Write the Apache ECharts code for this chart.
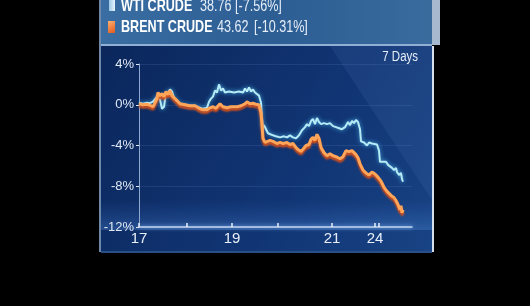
<!DOCTYPE html>
<html>
<head>
<meta charset="utf-8">
<script src="https://cdn.jsdelivr.net/npm/echarts@6/dist/echarts.min.js"></script>
<style>
html,body{margin:0;padding:0;background:#000;}
#c{width:530px;height:306px;}
</style>
</head>
<body>
<div id="c"></div>
<script>
// ---- data ----
var seriesNames = ['WTI CRUDE', 'BRENT CRUDE'];
var lastPrices = ['38.76', '43.62'];
var lastChanges = ['[-7.56%]', '[-10.31%]'];
var periodLabel = '7 Days';
// x = trading-time index, y = % change
var wti = [[0,0.2],[4,0.1],[8,0.2],[11,0.15],[14,0.3],[16,0.2],[18,0.8],[19,1.0],[21,0.5],[23,-0.4],[25,-0.2],[27,1.2],[29,1.0],[31,1.5],[33,1.3],[35,0.7],[37,0.5],[41,0.1],[46,0.0],[51,-0.1],[56,-0.1],[61,-0.3],[64,-0.4],[68,-0.3],[70,0.3],[72,0.6],[74,0.8],[76,1.4],[78,1.2],[80,2.0],[82,1.4],[84,1.6],[86,1.2],[90,1.3],[95,1.2],[100,1.3],[104,1.2],[106,1.6],[108,1.3],[110,1.7],[112,1.3],[114,1.5],[116,1.2],[118,1.3],[120,0.9],[122,0.2],[123,-1.2],[124,-2.3],[125,-2.0],[127,-2.4],[129,-2.8],[131,-2.9],[134,-3.0],[137,-3.1],[141,-3.2],[145,-3.1],[148,-3.2],[151,-3.0],[154,-3.2],[157,-3.3],[160,-3.0],[163,-2.5],[166,-2.2],[168,-1.9],[170,-2.1],[172,-1.6],[174,-1.4],[176,-1.9],[178,-1.3],[180,-1.7],[182,-1.9],[185,-1.8],[188,-1.9],[191,-1.8],[194,-2.1],[197,-2.2],[200,-2.3],[203,-2.4],[206,-2.2],[209,-1.7],[211,-2.0],[213,-1.6],[215,-1.8],[217,-1.5],[219,-1.7],[221,-2.4],[222,-3.6],[225,-3.7],[228,-4.0],[230,-3.7],[233,-3.8],[235,-3.9],[238,-3.9],[240,-4.5],[241,-5.6],[244,-5.6],[247,-5.6],[249,-5.9],[251,-5.8],[253,-6.2],[255,-6.4],[257,-6.2],[258,-6.6],[260,-6.9],[262,-6.7],[263,-7.3],[264,-7.56]];
var brent = [[0,0.1],[4,0.0],[8,0.05],[11,-0.05],[14,-0.2],[16,-0.25],[18,0.6],[19,1.2],[21,0.9],[23,1.1],[25,0.8],[27,1.3],[29,1.0],[31,1.4],[33,0.9],[35,0.7],[37,0.5],[41,0.1],[46,0.0],[51,-0.1],[56,-0.1],[61,-0.4],[64,-0.5],[68,-0.5],[71,-0.3],[74,-0.2],[77,-0.35],[81,0.1],[84,-0.2],[88,-0.3],[92,-0.2],[98,-0.2],[102,-0.1],[106,0.1],[108,0.3],[111,0.1],[114,0.15],[117,0.05],[120,0.0],[122,-0.8],[123,-2.0],[124,-3.3],[126,-3.7],[128,-3.8],[131,-3.5],[134,-3.6],[138,-3.8],[141,-3.7],[144,-3.8],[148,-3.7],[151,-3.9],[154,-3.8],[157,-4.2],[159,-4.4],[162,-4.6],[164,-4.5],[167,-4.0],[170,-3.9],[172,-3.4],[174,-3.2],[176,-3.5],[178,-2.9],[180,-3.3],[182,-4.2],[185,-4.7],[188,-5.0],[191,-4.8],[194,-5.0],[197,-5.1],[201,-5.3],[204,-5.1],[207,-4.5],[210,-4.6],[213,-4.5],[215,-4.6],[217,-4.9],[219,-5.2],[221,-5.8],[224,-6.4],[227,-6.7],[230,-6.9],[233,-6.6],[236,-6.8],[239,-7.1],[242,-7.5],[245,-8.1],[248,-8.5],[250,-8.4],[252,-8.9],[255,-9.1],[257,-9.4],[259,-9.8],[261,-10.3],[262,-9.9],[263,-10.6],[264,-10.31]];
var xTickPos = [0, 48, 93, 139, 193, 236, 240];
var xLabelPos = [0, 93, 193, 236];
var xLabels = ['17', '19', '21', '24'];

var FONT = "'Liberation Sans','Roboto',sans-serif";
var SX = 0.74;

var chart = echarts.init(document.getElementById('c'));
chart.setOption({
  backgroundColor: '#000',
  animation: false,
  grid: {left: 139, right: 118, top: 64, bottom: 79, containLabel: false},
  xAxis: {
    type: 'value', min: 0, max: 273,
    axisLine: {show: true, onZero: false, lineStyle: {color: '#c4d6f0', width: 1.5, shadowColor: 'rgba(140,190,255,0.9)', shadowBlur: 4}},
    axisTick: {show: true, customValues: xTickPos, length: 4, inside: true, lineStyle: {color: '#e6eef8', width: 1.5}},
    axisLabel: {
      customValues: xLabelPos, margin: 4, color: '#e8eef8', fontFamily: FONT, fontSize: 15,
      formatter: function (v) { var i = xLabelPos.indexOf(v); return i >= 0 ? xLabels[i] : ''; }
    },
    splitLine: {show: false}
  },
  yAxis: {
    type: 'value', min: -12, max: 4, interval: 4,
    axisLine: {show: true, lineStyle: {color: '#8fa8d0', width: 1}},
    axisTick: {show: true, length: 3, lineStyle: {color: '#dfe8f5'}},
    axisLabel: {margin: 5, color: '#e0e8f4', fontFamily: FONT, fontSize: 13, formatter: function (v) { return v + '%'; }},
    splitLine: {show: true, lineStyle: {color: 'rgba(110,150,215,0.16)', width: 1}}
  },
  graphic: [
    // header panel
    {type: 'rect', z: -10, shape: {x: 100, y: 0, width: 340, height: 45},
     style: {fill: new echarts.graphic.LinearGradient(0, 0, 1, 0, [
       {offset: 0, color: '#3a6ea3'}, {offset: 0.5, color: '#2c5d93'}, {offset: 1, color: '#3a6c9e'}])}},
    {type: 'rect', z: -9, shape: {x: 432, y: 0, width: 8, height: 45}, style: {fill: '#a6b9cf'}},
    {type: 'rect', z: -9, shape: {x: 100, y: 44, width: 332, height: 2}, style: {fill: '#8fb0d4'}},
    // chart panel
    {type: 'rect', z: -10, shape: {x: 101, y: 46, width: 331, height: 206},
     style: {fill: new echarts.graphic.LinearGradient(0, 0, 1, 1, [
       {offset: 0, color: '#0b275c'}, {offset: 0.6, color: '#113574'}, {offset: 1, color: '#184384'}])}},
    {type: 'polygon', z: -9, shape: {points: [[330, 46], [432, 46], [432, 200]]},
     style: {fill: 'rgba(120,160,220,0.10)'}},
    {type: 'rect', z: -9, shape: {x: 101, y: 200, width: 331, height: 30},
     style: {fill: new echarts.graphic.LinearGradient(0, 0, 0, 1, [
       {offset: 0, color: 'rgba(60,120,210,0)'}, {offset: 1, color: 'rgba(90,150,230,0.30)'}])}},
    {type: 'rect', z: -8, shape: {x: 432, y: 46, width: 2, height: 206}, style: {fill: '#d6dfec'}},
    {type: 'rect', z: -8, shape: {x: 99, y: 0, width: 2, height: 252}, style: {fill: '#6d87a8'}},
    {type: 'rect', z: -8, shape: {x: 101, y: 251, width: 331, height: 2}, style: {fill: '#2a4f86'}},
    // legend icons
    {type: 'rect', shape: {x: 109, y: 0, width: 6, height: 11},
     style: {fill: new echarts.graphic.LinearGradient(0, 0, 1, 0, [{offset: 0, color: '#9fc8e6'}, {offset: 1, color: '#e8f6ff'}])}},
    {type: 'rect', shape: {x: 108, y: 21, width: 7, height: 12},
     style: {fill: new echarts.graphic.LinearGradient(0, 0, 1, 1, [{offset: 0, color: '#ffb070'}, {offset: 1, color: '#e0581c'}])}},
    // legend texts (condensed via scaleX)
    {type: 'text', x: 121, y: -2, scaleX: SX, style: {text: seriesNames[0], fill: '#fff', font: 'bold 17px ' + FONT}},
    {type: 'text', x: 200, y: -2, scaleX: SX, style: {text: lastPrices[0], fill: '#e6eef8', font: '17px ' + FONT}},
    {type: 'text', x: 235, y: -2, scaleX: SX, style: {text: lastChanges[0], fill: '#e6eef8', font: '17px ' + FONT}},
    {type: 'text', x: 121, y: 19, scaleX: SX, style: {text: seriesNames[1], fill: '#fff', font: 'bold 17px ' + FONT}},
    {type: 'text', x: 217, y: 19, scaleX: SX, style: {text: lastPrices[1], fill: '#e6eef8', font: '17px ' + FONT}},
    {type: 'text', x: 254, y: 19, scaleX: SX, style: {text: lastChanges[1], fill: '#e6eef8', font: '17px ' + FONT}},
    {type: 'text', x: 418, y: 50, scaleX: 0.82, style: {text: periodLabel, fill: '#e6eef8', font: '14px ' + FONT, align: 'right'}}
  ],
  series: [
    {name: seriesNames[0], type: 'line', data: wti, showSymbol: false, z: 3,
     lineStyle: {color: '#b6eaf6', width: 2, shadowColor: 'rgba(80,190,240,0.9)', shadowBlur: 4}},
    {name: seriesNames[1], type: 'line', data: brent, showSymbol: false, z: 4,
     lineStyle: {color: '#ffa55a', width: 3, shadowColor: 'rgba(215,80,25,1)', shadowBlur: 2, shadowOffsetY: 2.5}}
  ]
});
</script>
</body>
</html>
